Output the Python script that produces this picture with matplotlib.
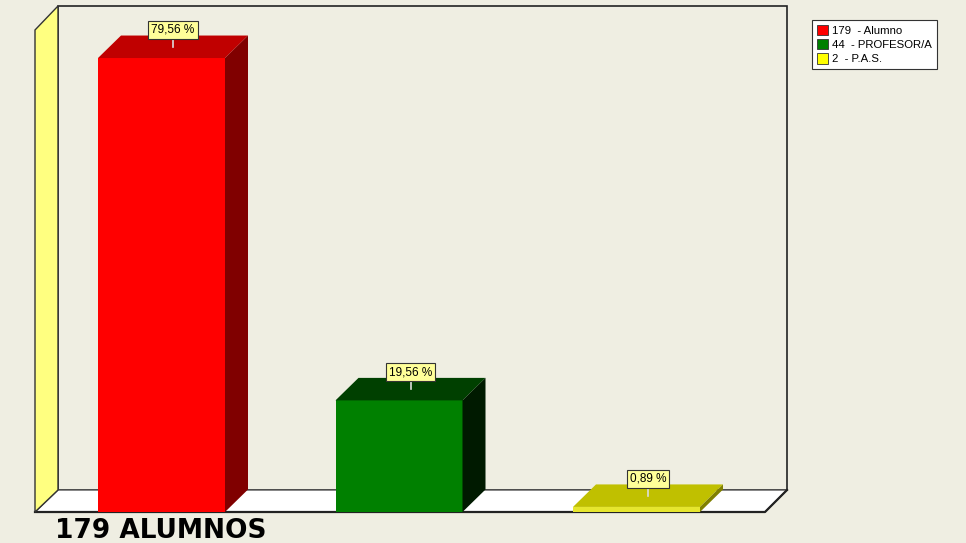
import matplotlib
matplotlib.use("Agg")
import matplotlib.pyplot as plt
from matplotlib.patches import Polygon, Rectangle, Patch

# ---- data ----
categories = ["Alumno", "PROFESOR/A", "P.A.S."]
counts = [179, 44, 2]
percentages = [79.56, 19.56, 0.89]
front_colors = ["#FF0000", "#008000", "#E6E62E"]
top_colors = ["#C00000", "#004000", "#C0C000"]
side_colors = ["#800000", "#001A00", "#808000"]
legend_colors = ["#FF0000", "#008000", "#FFFF00"]
footer = "179 ALUMNOS"

W, H = 966, 543
BG = "#EFEEE2"

fig = plt.figure(figsize=(W / 100, H / 100), dpi=100)
fig.patch.set_facecolor(BG)
ax = fig.add_axes([0, 0, 1, 1])
ax.axis("off")

# pixel-to-data layout constants
ppu_x = 237.5      # pixels per category step
ppu_y = 5.706      # pixels per percent
x0px, y0px = 161.5, 512.0
ax.set_xlim(-x0px / ppu_x, (W - x0px) / ppu_x)
ax.set_ylim(-(H - y0px) / ppu_y, y0px / ppu_y)


def P(px, py):
    return ((px - x0px) / ppu_x, (y0px - py) / ppu_y)


DX = 23 / ppu_x
DY = 22.5 / ppu_y
HW = 63.5 / ppu_x

# back wall
ax.add_patch(Polygon([P(58, 6), P(787, 6), P(787, 490), P(58, 490)], closed=True,
                     facecolor=BG, edgecolor="#222222", lw=1.2, zorder=1))
# floor
ax.add_patch(Polygon([P(35, 512), P(765, 512), P(787, 490), P(58, 490)], closed=True,
                     facecolor="white", edgecolor="#555555", lw=1.0, zorder=2))
ax.plot(*zip(P(35, 512), P(765, 512), P(787, 490)), color="#222222", lw=1.6, zorder=3)
# left wall
ax.add_patch(Polygon([P(35, 30), P(58, 6), P(58, 490), P(35, 512)], closed=True,
                     facecolor="#FFFF80", edgecolor="#333333", lw=1.0, zorder=3))

# bars
for i, v in enumerate(percentages):
    l, r = i - HW, i + HW
    ax.add_patch(Rectangle((l, 0), 2 * HW, v, facecolor=front_colors[i],
                           edgecolor="none", zorder=5))
    ax.add_patch(Polygon([(l, v), (r, v), (r + DX, v + DY), (l + DX, v + DY)],
                         closed=True, facecolor=top_colors[i], edgecolor="none", zorder=5))
    ax.add_patch(Polygon([(r, 0), (r + DX, DY), (r + DX, v + DY), (r, v)],
                         closed=True, facecolor=side_colors[i], edgecolor="none", zorder=5))
    cx = i + DX / 2
    cy = v + DY / 2
    lab_y = cy + 17 / ppu_y
    ax.plot([cx, cx], [cy, lab_y], color="#DDDDDD", lw=1.2, zorder=6)
    ax.text(cx, lab_y, f"{v:.2f} %".replace(".", ","), ha="center", va="center",
            fontsize=8.5, family="Liberation Sans", zorder=7,
            bbox=dict(boxstyle="square,pad=0.25", facecolor="#FFFF99",
                      edgecolor="#333333", lw=0.8))

# legend
handles = [Patch(facecolor=c, edgecolor="#333333", lw=0.6) for c in legend_colors]
labels = [f"{n}  - {c}" for n, c in zip(counts, categories)]
leg = ax.legend(handles, labels, loc="upper left",
                bbox_to_anchor=(812 / W, 1 - 20 / H), bbox_transform=fig.transFigure,
                borderaxespad=0, handlelength=1.0, handleheight=1.0,
                handletextpad=0.4, labelspacing=0.3, borderpad=0.4,
                fancybox=False, framealpha=1, edgecolor="#333333",
                prop={"family": "Liberation Sans", "size": 8.2})
leg.get_frame().set_linewidth(0.8)

fig.text(55 / W, 1 - 538 / H, footer, fontsize=19, fontweight="bold",
         family="DejaVu Sans", va="baseline", ha="left")

fig.savefig("out.png", dpi=100, facecolor=BG)
